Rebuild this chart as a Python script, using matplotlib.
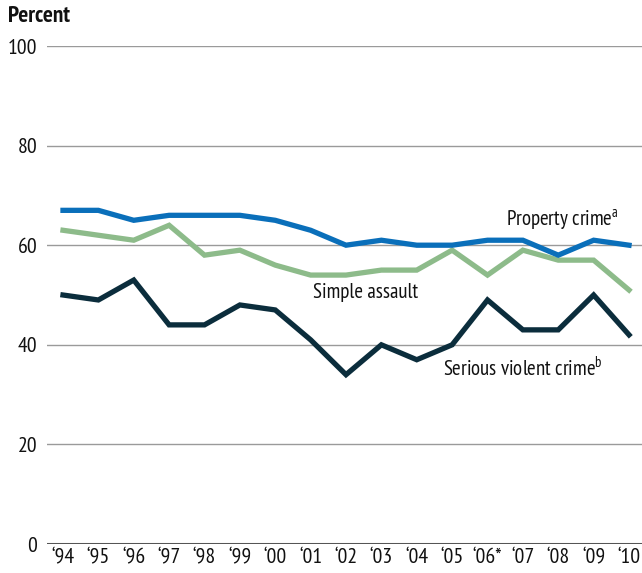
import matplotlib
matplotlib.use("Agg")
import matplotlib.pyplot as plt
from matplotlib import font_manager

names = {f.name for f in font_manager.fontManager.ttflist}
FONT = 'DejaVu Sans'
for cand in ['PT Sans Narrow', 'Roboto Condensed', 'Open Sans Condensed', 'Fira Sans Condensed',
             'Asap Condensed', 'Archivo Narrow']:
    if cand in names:
        FONT = cand
        break
plt.rcParams['font.family'] = [FONT, 'DejaVu Sans']

years = list(range(1994, 2011))
year_labels = ["\u201894", "\u201895", "\u201896", "\u201897", "\u201898", "\u201899", "\u201800",
               "\u201801", "\u201802", "\u201803", "\u201804", "\u201805", "\u201806*", "\u201807",
               "\u201808", "\u201809", "\u201810"]
property_crime = [67, 67, 65, 66, 66, 66, 65, 63, 60, 61, 60, 60, 61, 61, 58, 61, 60]
simple_assault = [63, 62, 61, 64, 58, 59, 56, 54, 54, 55, 55, 59, 54, 59, 57, 57, 51]
serious_violent = [50, 49, 53, 44, 44, 48, 47, 41, 34, 40, 37, 40, 49, 43, 43, 50, 42]
y_ticks = [0, 20, 40, 60, 80, 100]

fig = plt.figure(figsize=(6.42, 5.73), dpi=100)
ax = fig.add_axes([47/642, 1-544/573, 1-47/642, (544-46)/573])

# choose font size so that label width matches the reference (~150 px)
r = fig.canvas.get_renderer()
probe = fig.text(0, 0, 'Serious violent crime', fontsize=15)
w = probe.get_window_extent(r).width
probe.remove()
FS = max(12.5, min(16.5, 15 * 152 / w))

for t in y_ticks[1:]:
    ax.axhline(t, color='#9a9a9a', lw=1.0, zorder=1)
ax.axhline(0, color='#555555', lw=2.2, zorder=1)

ax.plot(years, serious_violent, color='#0b2d3c', lw=3.8, solid_joinstyle='miter', zorder=3)
ax.plot(years, simple_assault, color='#8dbb8a', lw=3.8, solid_joinstyle='miter', zorder=3)
ax.plot(years, property_crime, color='#0a6fba', lw=3.8, solid_joinstyle='miter', zorder=4)

ax.set_xlim(93.548 + 1900, 110.367 + 1900)
ax.set_ylim(0, 100)
for s in ax.spines.values():
    s.set_visible(False)
ax.set_yticks(y_ticks)
ax.set_yticklabels([str(v) for v in y_ticks], fontsize=FS * 1.05)
ax.set_xticks(years)
ax.set_xticklabels(year_labels, fontsize=FS * 1.05)
ax.tick_params(axis='both', length=0, colors='#111111')
ax.tick_params(axis='y', pad=7)
ax.tick_params(axis='x', pad=3)

ax.text(2006.52, 63.9, r'Property crime$^{\mathregular{a}}$', fontsize=FS, color='#111111', va='baseline')
ax.text(2001.07, 49.4, 'Simple assault', fontsize=FS, color='#111111', va='baseline')
ax.text(2004.74, 33.9, r'Serious violent crime$^{\mathregular{b}}$', fontsize=FS, color='#111111', va='baseline')

fig.text(8/642, 1-16/573, 'Percent', fontsize=FS * 1.12, fontweight='bold', color='#111111', va='center')

fig.savefig('out.png', dpi=100)
